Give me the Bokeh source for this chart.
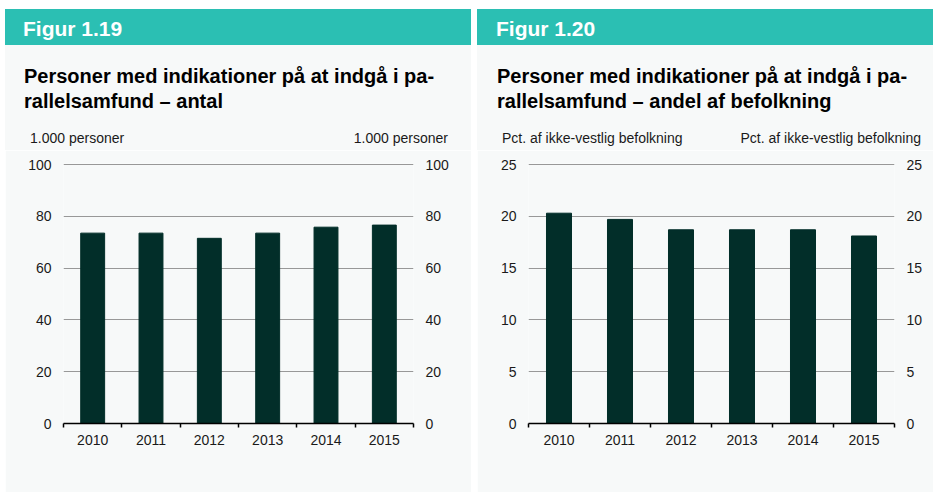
from bokeh.plotting import figure
from bokeh.layouts import row, column
from bokeh.models import (Div, Spacer, FixedTicker, Range1d, LinearAxis,
                          CustomJSTickFormatter)
from bokeh.embed import file_html
from bokeh.resources import INLINE

# ---- data ----
years = ["2010", "2011", "2012", "2013", "2014", "2015"]
antal = [73.5, 73.5, 71.5, 73.5, 75.8, 76.6]          # 1.000 personer
andel = [20.3, 19.7, 18.7, 18.7, 18.7, 18.1]          # pct. af ikke-vestlig befolkning
ticks_antal = [0, 20, 40, 60, 80, 100]
ticks_andel = [0, 5, 10, 15, 20, 25]

TEAL = "#2bbfb3"
BG = "#f7f9f9"
BAR = "#022e29"
GRID = "#989898"
TXT = "#1a1a1a"
FONT = "Liberation Sans"
FF = f"font-family:'{FONT}',Arial,sans-serif;"


def make_panel(fig_label, title_l1, title_l2, unit, values, yticks, panel_w,
               pad_head, pad_title, frame_left, frame_w, unit_l, unit_r):
    head = Div(
        text=(f'<div style="{FF}font-weight:bold;'
              f'font-size:21px;color:#ffffff;padding-left:{pad_head}px;padding-top:3px;'
              f'line-height:33px;white-space:nowrap;">{fig_label}</div>'),
        width=panel_w, height=36, margin=0,
        styles={"background-color": TEAL, "overflow": "hidden"})
    title = Div(
        text=(f'<div style="{FF}font-weight:bold;'
              f'font-size:20px;color:#000000;padding-left:{pad_title}px;padding-top:19px;'
              f'line-height:25px;white-space:nowrap;">{title_l1}<br>{title_l2}</div>'),
        width=panel_w, height=75, margin=0,
        styles={"background-color": BG, "overflow": "hidden"})
    units = Div(
        text=(f'<div style="position:relative;width:{panel_w}px;height:30px;{FF}'
              f'font-size:14px;color:{TXT};line-height:16px;white-space:nowrap;">'
              f'<span style="position:absolute;left:{unit_l}px;top:10px;">{unit}</span>'
              f'<span style="position:absolute;right:{unit_r}px;top:10px;">{unit}</span>'
              f'</div>'),
        width=panel_w, height=30, margin=0,
        styles={"background-color": BG, "overflow": "hidden"})

    n = len(years)
    xc = [i + 0.5 for i in range(n)]
    ymax = yticks[-1]
    frame_h = 260
    p = figure(width=panel_w, height=342, output_backend="svg", toolbar_location=None,
               x_range=Range1d(0, n), y_range=Range1d(0, ymax * frame_h / (frame_h - 1)),
               min_border_left=frame_left, min_border_right=panel_w - frame_left - frame_w,
               min_border_top=13, min_border_bottom=69,
               background_fill_color=BG, border_fill_color=BG, outline_line_color=None,
               margin=0)
    p.vbar(x=xc, top=values, width=0.41, color=BAR)

    p.xgrid.visible = False
    p.ygrid.ticker = FixedTicker(ticks=yticks)
    p.ygrid.grid_line_color = GRID
    p.ygrid.grid_line_width = 1

    xa = p.xaxis[0]
    xa.ticker = FixedTicker(ticks=xc, minor_ticks=list(range(n + 1)))
    xa.formatter = CustomJSTickFormatter(args=dict(labels=years),
                                         code="return labels[Math.floor(tick)];")
    xa.axis_line_color = "#000000"
    xa.axis_line_width = 1.5
    xa.major_tick_line_color = None
    xa.major_tick_out = 4
    xa.major_tick_in = 0
    xa.minor_tick_line_color = "#000000"
    xa.minor_tick_line_width = 1.5
    xa.minor_tick_out = 4
    xa.minor_tick_in = 0
    xa.major_label_standoff = 7
    xa.major_label_text_font = FONT
    xa.major_label_text_font_size = "14px"
    xa.major_label_text_color = TXT

    ya = p.yaxis[0]
    yr = LinearAxis()
    p.add_layout(yr, "right")
    for ax in (ya, yr):
        ax.ticker = FixedTicker(ticks=yticks)
        ax.axis_line_color = None
        ax.major_tick_line_color = None
        ax.minor_tick_line_color = None
        ax.major_tick_out = 0
        ax.major_tick_in = 0
        ax.major_label_standoff = 12
        ax.major_label_text_font = FONT
        ax.major_label_text_font_size = "14px"
        ax.major_label_text_color = TXT

    return column(head, title, units, p, spacing=0)


left = make_panel("Figur 1.19",
                  "Personer med indikationer på at indgå i pa-",
                  "rallelsamfund – antal",
                  "1.000 personer", antal, ticks_antal, 466,
                  18, 19, 58, 350, 25, 23)
right = make_panel("Figur 1.20",
                   "Personer med indikationer på at indgå i pa-",
                   "rallelsamfund – andel af befolkning",
                   "Pct. af ikke-vestlig befolkning", andel, ticks_andel, 456,
                   19, 20, 51, 366, 25, 12)

layout = column(
    Spacer(width=933, height=9, margin=0),
    row(Spacer(width=5, height=483, margin=0), left,
        Spacer(width=6, height=483, margin=0), right, spacing=0),
    spacing=0)

with open("out.html", "w") as f:
    f.write(file_html(layout, INLINE))
